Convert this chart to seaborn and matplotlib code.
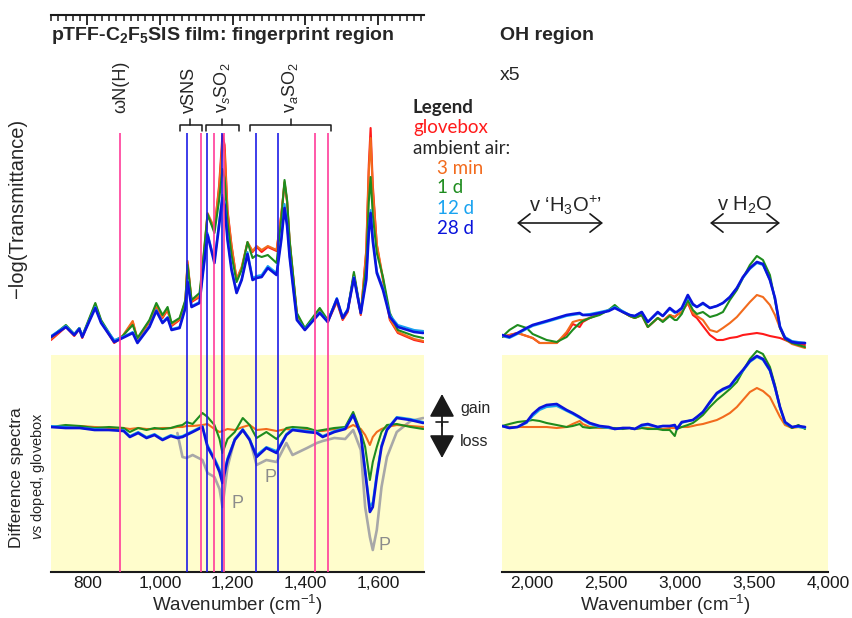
import numpy as np
import matplotlib
matplotlib.use("Agg")
import matplotlib.pyplot as plt
import seaborn as sns
from matplotlib.lines import Line2D
from matplotlib.ticker import FuncFormatter, MultipleLocator

# ---------------- data ----------------
# fingerprint region, absorbance-like units (upper block)
wn_fp = [700, 741, 764, 778, 786, 822, 838, 874, 897, 925,
         938, 971, 990, 1007, 1021, 1032, 1054, 1070, 1076, 1087,
         1109, 1117, 1131, 1150, 1163, 1172, 1178, 1186, 1197, 1211,
         1225, 1241, 1255, 1266, 1280, 1297, 1321, 1334, 1343, 1350,
         1357, 1377, 1399, 1440, 1462, 1487, 1503, 1517, 1534, 1553,
         1568, 1575, 1580, 1586, 1597, 1614, 1633, 1655, 1700, 1725]
fp_glovebox = [0.00, 0.13, 0.04, 0.11, 0.02, 0.35, 0.18, -0.03, 0.03, 0.18,
               0.00, 0.18, 0.34, 0.22, 0.30, 0.14, 0.20, 0.38, 0.77, 0.38,
               0.43, 0.68, 1.25, 1.10, 1.55, 2.05, 1.95, 1.30, 0.95, 0.60,
               0.72, 0.97, 0.88, 0.93, 0.88, 0.93, 0.89, 1.25, 1.57, 1.38,
               0.98, 0.25, 0.10, 0.30, 0.18, 0.38, 0.20, 0.28, 0.65, 0.25,
               0.90, 1.75, 2.12, 1.55, 0.95, 0.60, 0.20, 0.07, 0.00, -0.02]
fp_3min = [0.01, 0.14, 0.05, 0.12, 0.03, 0.36, 0.19, -0.02, 0.04, 0.19,
           0.01, 0.19, 0.35, 0.23, 0.31, 0.15, 0.21, 0.39, 0.79, 0.39,
           0.44, 0.70, 1.27, 1.12, 1.52, 1.97, 1.88, 1.28, 0.94, 0.61,
           0.73, 0.98, 0.89, 0.94, 0.90, 0.94, 0.90, 1.25, 1.58, 1.39,
           0.99, 0.26, 0.11, 0.31, 0.19, 0.39, 0.21, 0.29, 0.66, 0.26,
           0.88, 1.68, 2.02, 1.50, 0.96, 0.62, 0.21, 0.08, 0.01, -0.01]
fp_1d = [0.03, 0.15, 0.06, 0.12, 0.04, 0.37, 0.20, -0.01, 0.04, 0.15,
         0.02, 0.20, 0.37, 0.25, 0.33, 0.17, 0.22, 0.40, 0.75, 0.40,
         0.47, 0.73, 1.26, 1.07, 1.40, 1.71, 1.62, 1.18, 0.85, 0.58,
         0.70, 0.98, 0.82, 0.85, 0.83, 0.85, 0.77, 1.20, 1.60, 1.40,
         1.00, 0.27, 0.12, 0.32, 0.20, 0.40, 0.22, 0.30, 0.68, 0.27,
         0.75, 1.38, 1.63, 1.25, 0.87, 0.63, 0.27, 0.10, 0.04, 0.02]
fp_12d = [0.04, 0.14, 0.06, 0.12, 0.04, 0.33, 0.18, 0.00, 0.03, 0.08,
          -0.02, 0.14, 0.30, 0.18, 0.23, 0.11, 0.13, 0.33, 0.60, 0.34,
          0.38, 0.64, 1.07, 0.79, 1.18, 1.45, 1.38, 1.02, 0.72, 0.48,
          0.61, 0.88, 0.62, 0.64, 0.65, 0.74, 0.67, 1.02, 1.36, 1.17,
          0.85, 0.21, 0.11, 0.28, 0.19, 0.42, 0.23, 0.31, 0.63, 0.28,
          0.62, 1.10, 1.30, 1.02, 0.69, 0.52, 0.25, 0.15, 0.10, 0.09]
fp_28d = [0.03, 0.13, 0.05, 0.11, 0.03, 0.32, 0.17, -0.02, 0.02, 0.07,
          -0.03, 0.13, 0.29, 0.17, 0.22, 0.10, 0.12, 0.32, 0.58, 0.33,
          0.37, 0.63, 1.05, 0.77, 1.15, 1.42, 1.35, 1.00, 0.70, 0.47,
          0.60, 0.86, 0.60, 0.62, 0.63, 0.72, 0.65, 1.00, 1.32, 1.14,
          0.83, 0.20, 0.10, 0.27, 0.18, 0.41, 0.22, 0.30, 0.62, 0.27,
          0.60, 1.07, 1.27, 0.99, 0.67, 0.50, 0.23, 0.13, 0.08, 0.07]

# fingerprint difference spectra (vs doped, glovebox)
wn_fp_diff = [700, 740, 780, 820, 860, 900, 917, 940, 963, 985,
              1007, 1030, 1048, 1062, 1073, 1090, 1117, 1131, 1150, 1164,
              1172, 1186, 1206, 1228, 1247, 1266, 1293, 1321, 1348, 1365,
              1405, 1432, 1448, 1480, 1510, 1532, 1553, 1565, 1578, 1586,
              1597, 1610, 1625, 1652, 1690, 1725]
diff_3min = [0.00, 0.00, 0.01, 0.00, -0.01, -0.01, -0.02, -0.01, -0.02, -0.02,
             -0.01, -0.01, 0.00, 0.00, 0.01, 0.01, 0.02, 0.03, -0.02, -0.05,
             -0.04, -0.02, -0.03, 0.00, 0.02, -0.03, -0.02, -0.04, -0.02, -0.03,
             -0.02, -0.04, -0.04, -0.02, -0.02, 0.02, -0.02, -0.08, -0.18, -0.10,
             -0.05, -0.02, 0.00, 0.02, 0.01, 0.00]
diff_1d = [0.00, 0.02, 0.01, -0.01, 0.00, -0.01, -0.05, -0.01, -0.03, -0.01,
           -0.02, -0.01, 0.01, 0.02, 0.05, 0.03, 0.14, 0.10, 0.02, -0.12,
           -0.26, -0.12, -0.05, 0.09, 0.02, -0.11, -0.05, -0.12, -0.01, 0.00,
           -0.01, -0.04, -0.03, -0.01, 0.00, 0.15, -0.05, -0.20, -0.53, -0.35,
           -0.20, -0.05, 0.02, 0.03, 0.00, -0.02]
diff_12d = [0.01, 0.00, -0.01, -0.02, -0.03, -0.03, -0.09, -0.05, -0.10, -0.07,
            -0.12, -0.08, -0.10, -0.09, -0.07, -0.04, 0.01, -0.18, -0.31, -0.42,
            -0.52, -0.31, -0.12, -0.02, -0.12, -0.28, -0.20, -0.24, -0.07, -0.02,
            -0.04, -0.05, -0.09, -0.04, -0.01, 0.12, -0.07, -0.42, -0.80, -0.75,
            -0.46, -0.18, -0.02, 0.10, 0.08, 0.05]
diff_28d = [0.00, -0.01, -0.01, -0.03, -0.03, -0.04, -0.10, -0.06, -0.11, -0.08,
            -0.13, -0.09, -0.11, -0.10, -0.08, -0.05, 0.00, -0.20, -0.33, -0.45,
            -0.56, -0.33, -0.13, -0.03, -0.13, -0.30, -0.21, -0.26, -0.08, -0.03,
            -0.05, -0.06, -0.10, -0.05, -0.02, 0.12, -0.08, -0.45, -0.85, -0.80,
            -0.50, -0.20, -0.03, 0.09, 0.07, 0.04]
nan = np.nan
diff_P = [nan, nan, nan, nan, nan, nan, nan, nan, nan, nan,
          nan, nan, -0.06, -0.30, -0.31, -0.28, -0.33, -0.46, -0.50, -0.62,
          -0.80, -0.40, -0.12, -0.03, -0.12, -0.38, -0.33, -0.35, -0.16, -0.28,
          -0.21, -0.16, -0.14, -0.11, -0.12, -0.03, -0.23, -0.80, -1.10, -1.23,
          -1.03, -0.60, -0.30, -0.05, 0.06, 0.09]

# OH region (upper block is x5)
wn_oh = [1800, 1850, 1905, 1966, 2007, 2054, 2101, 2169, 2236, 2277,
         2324, 2345, 2392, 2459, 2520, 2561, 2615, 2662, 2696, 2743,
         2784, 2851, 2885, 2932, 2966, 2980, 3013, 3054, 3088, 3115,
         3156, 3203, 3250, 3291, 3338, 3385, 3426, 3473, 3520, 3561,
         3608, 3642, 3676, 3710, 3757, 3800, 3845]
oh_glovebox = [0.03, 0.05, 0.07, 0.04, 0.02, -0.03, -0.03, -0.03, 0.06, 0.16,
               0.13, 0.18, 0.22, 0.26, 0.30, 0.33, 0.28, 0.24, 0.22, 0.25,
               0.13, 0.22, 0.19, 0.25, 0.23, 0.25, 0.28, 0.37, 0.25, 0.22,
               0.14, 0.05, 0.00, 0.00, 0.02, 0.03, 0.05, 0.06, 0.07, 0.06,
               0.04, 0.03, 0.02, 0.00, -0.03, -0.04, -0.05]
oh_3min = [0.03, 0.05, 0.07, 0.04, 0.02, -0.03, -0.03, -0.03, 0.08, 0.18,
           0.20, 0.20, 0.22, 0.26, 0.30, 0.33, 0.28, 0.24, 0.22, 0.25,
           0.13, 0.22, 0.19, 0.25, 0.23, 0.25, 0.28, 0.38, 0.27, 0.24,
           0.20, 0.10, 0.08, 0.12, 0.17, 0.23, 0.30, 0.38, 0.45, 0.43,
           0.35, 0.25, 0.12, 0.01, -0.04, -0.06, -0.08]
oh_1d = [0.03, 0.10, 0.15, 0.12, 0.06, 0.03, 0.00, -0.02, 0.03, 0.10,
         0.17, 0.19, 0.22, 0.25, 0.30, 0.35, 0.28, 0.24, 0.22, 0.25,
         0.13, 0.22, 0.18, 0.24, 0.20, 0.20, 0.26, 0.40, 0.30, 0.26,
         0.28, 0.23, 0.25, 0.28, 0.40, 0.50, 0.62, 0.75, 0.84, 0.80,
         0.65, 0.40, 0.12, 0.01, -0.03, -0.05, -0.07]
oh_12d = [0.04, 0.02, 0.06, 0.11, 0.14, 0.16, 0.18, 0.21, 0.24, 0.25,
          0.26, 0.25, 0.26, 0.28, 0.30, 0.33, 0.29, 0.25, 0.24, 0.28,
          0.18, 0.27, 0.24, 0.31, 0.27, 0.28, 0.31, 0.43, 0.35, 0.33,
          0.36, 0.32, 0.34, 0.37, 0.43, 0.52, 0.62, 0.71, 0.77, 0.75,
          0.60, 0.42, 0.14, 0.03, -0.01, -0.02, -0.03]
oh_28d = [0.05, 0.03, 0.07, 0.12, 0.15, 0.17, 0.19, 0.22, 0.25, 0.26,
          0.27, 0.25, 0.25, 0.27, 0.29, 0.32, 0.28, 0.25, 0.24, 0.28,
          0.18, 0.28, 0.24, 0.32, 0.28, 0.28, 0.32, 0.45, 0.36, 0.33,
          0.37, 0.32, 0.34, 0.37, 0.43, 0.52, 0.63, 0.72, 0.78, 0.76,
          0.60, 0.42, 0.13, 0.02, -0.02, -0.03, -0.03]
oh_diff_3min = [0.01, 0.00, 0.00, 0.00, 0.00, 0.00, 0.00, -0.01, 0.00, 0.03,
                0.06, 0.03, 0.00, -0.01, -0.01, -0.02, -0.01, -0.01, -0.02, -0.01,
                -0.01, -0.02, -0.02, -0.01, -0.01, -0.01, 0.00, 0.00, 0.01, 0.02,
                0.03, 0.05, 0.07, 0.10, 0.14, 0.20, 0.27, 0.35, 0.39, 0.36,
                0.30, 0.20, 0.10, 0.02, -0.01, 0.00, -0.01]
oh_diff_1d = [0.01, 0.03, 0.05, 0.06, 0.07, 0.06, 0.04, 0.02, 0.00, 0.01,
              0.03, 0.00, -0.01, 0.00, -0.01, -0.01, -0.02, -0.01, -0.02, -0.01,
              -0.02, -0.02, -0.03, -0.03, -0.09, -0.02, 0.00, 0.02, 0.04, 0.07,
              0.12, 0.20, 0.27, 0.32, 0.38, 0.45, 0.56, 0.68, 0.76, 0.73,
              0.60, 0.42, 0.20, 0.04, -0.01, 0.02, -0.02]
oh_diff_12d = [0.01, -0.01, 0.00, 0.04, 0.11, 0.17, 0.20, 0.21, 0.16, 0.13,
               0.09, 0.07, 0.03, 0.00, -0.01, -0.02, -0.01, -0.01, -0.02, 0.01,
               0.02, 0.00, 0.01, 0.01, 0.01, -0.01, 0.04, 0.06, 0.07, 0.10,
               0.15, 0.24, 0.33, 0.37, 0.40, 0.49, 0.56, 0.65, 0.70, 0.67,
               0.56, 0.39, 0.19, 0.04, 0.00, 0.00, -0.01]
oh_diff_28d = [0.01, -0.01, 0.00, 0.05, 0.13, 0.19, 0.22, 0.23, 0.17, 0.14,
               0.10, 0.08, 0.04, 0.01, 0.00, -0.02, -0.01, -0.01, -0.02, 0.02,
               0.03, 0.00, 0.01, 0.01, 0.02, -0.02, 0.05, 0.06, 0.07, 0.10,
               0.15, 0.25, 0.34, 0.38, 0.41, 0.50, 0.57, 0.66, 0.71, 0.68,
               0.57, 0.40, 0.20, 0.05, 0.00, 0.01, 0.00]

# band markers (cm-1)
pink_bands = [891, 1113, 1149, 1177, 1426, 1462]
blue_bands = [1074, 1130, 1171, 1265, 1324]
band_labels = ["\u03c9N(H)", "vSNS", "v$_s$SO$_2$", "v$_a$SO$_2$"]
band_label_pos = [891, 1081, 1172, 1357]
brackets = [(1054, 1117, 1084), (1126, 1219, 1172), (1247, 1470, 1360)]

legend_names = ["glovebox", "3 min", "1 d", "12 d", "28 d"]

# ---------------- style ----------------
sns.set_theme(style="white")
plt.rcParams["font.family"] = ["Liberation Sans", "DejaVu Sans"]
plt.rcParams["mathtext.fontset"] = "custom"
plt.rcParams["mathtext.rm"] = "Liberation Sans"
plt.rcParams["mathtext.it"] = "Liberation Sans:italic"
plt.rcParams["mathtext.bf"] = "Liberation Sans:bold"

colors = {"glovebox": "#FF1A1A", "3 min": "#F26B1D", "1 d": "#1E8C1E",
          "12 d": "#19A3F0", "28 d": "#0A14DC"}
GRAY = "#A8A8A8"
PINK = "#FF3C9A"
BAND_BLUE = "#1C1CE6"
YELLOW = "#FFFDCC"
UPPER_OFFSET = 0.87
YMIN, YMAX = -1.45, 4.12

W, H = 852, 618
fig = plt.figure(figsize=(W / 100, H / 100), dpi=100)


def fpx(x, y):
    return x / W, 1 - y / H


ax_fp = fig.add_axes([51 / W, 1 - 572 / H, (424 - 51) / W, (572 - 15) / H])
ax_oh = fig.add_axes([502 / W, 1 - 572 / H, (828 - 502) / W, (572 - 15) / H])


def draw(ax, x, y, color, lw=1.5, z=3):
    sns.lineplot(x=x, y=y, ax=ax, color=color, linewidth=lw,
                 estimator=None, sort=False, zorder=z, legend=False)


for ax in (ax_fp, ax_oh):
    ax.axhspan(YMIN, 0.72, color=YELLOW, zorder=0, lw=0)

# fingerprint panel
upper_fp = [fp_glovebox, fp_3min, fp_1d, fp_12d, fp_28d]
for i, (name, vals) in enumerate(zip(legend_names, upper_fp)):
    draw(ax_fp, wn_fp, np.array(vals) + UPPER_OFFSET, colors[name],
         lw=1.9 if name == "28 d" else 1.5, z=3 + i)

draw(ax_fp, wn_fp_diff, diff_P, GRAY, lw=1.9, z=3)
for i, (name, vals) in enumerate(zip(legend_names[1:], [diff_3min, diff_1d, diff_12d, diff_28d])):
    draw(ax_fp, wn_fp_diff, vals, colors[name], lw=1.9 if name == "28 d" else 1.5, z=4 + i)

ax_fp.vlines(pink_bands, YMIN, 2.94, color=PINK, lw=1.2, zorder=9)
ax_fp.vlines(blue_bands, YMIN, 2.94, color=BAND_BLUE, lw=1.2, zorder=9)

for lab, pos in zip(band_labels, band_label_pos):
    ax_fp.text(pos, 3.14, lab, rotation=90, rotation_mode="anchor",
               ha="left", va="center", fontsize=13)
for x0, x1, xm in brackets:
    ax_fp.plot([x0, x0, x1, x1], [2.96, 3.02, 3.02, 2.96], color="k", lw=1.1)
    ax_fp.plot([xm, xm], [3.02, 3.08], color="k", lw=1.1)

for (px_x, px_y) in [(1214, -0.76), (1305, -0.51), (1617, -1.18)]:
    ax_fp.text(px_x, px_y, "P", color="#8C8C8C", fontsize=13, ha="center", va="center")

# OH panel
upper_oh = [oh_glovebox, oh_3min, oh_1d, oh_12d, oh_28d]
for i, (name, vals) in enumerate(zip(legend_names, upper_oh)):
    draw(ax_oh, wn_oh, np.array(vals) + UPPER_OFFSET, colors[name],
         lw=1.9 if name == "28 d" else 1.5, z=3 + i)
for i, (name, vals) in enumerate(zip(legend_names[1:], [oh_diff_3min, oh_diff_1d, oh_diff_12d, oh_diff_28d])):
    draw(ax_oh, wn_oh, vals, colors[name], lw=1.9 if name == "28 d" else 1.5, z=4 + i)

# axes formatting
comma = FuncFormatter(lambda v, p: f"{v:,.0f}")
ax_fp.set_xlim(700, 1727)
ax_fp.xaxis.set_major_locator(MultipleLocator(200))
ax_fp.xaxis.set_minor_locator(MultipleLocator(20))
ax_oh.set_xlim(1800, 4000)
ax_oh.xaxis.set_major_locator(MultipleLocator(500))
ax_oh.xaxis.set_minor_locator(MultipleLocator(100))
for ax in (ax_fp, ax_oh):
    ax.set_ylim(YMIN, YMAX)
    ax.xaxis.set_major_formatter(comma)
    ax.set_yticks([])
    ax.set_ylabel("")
    for s in ("left", "right", "top"):
        ax.spines[s].set_visible(False)
    ax.spines["bottom"].set_linewidth(1.5)
    ax.spines["bottom"].set_color("k")
    ax.tick_params(axis="x", which="major", direction="in", length=7, width=1.3,
                   labelsize=12.5, pad=3, colors="k")
    ax.tick_params(axis="x", which="minor", direction="in", length=4, width=1.1, colors="k")
    ax.set_xlabel("Wavenumber (cm$^{-1}$)", fontsize=13.5, labelpad=1)
    ax.set_facecolor("none")

ax_fp.spines["top"].set_visible(True)
ax_fp.spines["top"].set_linewidth(1.5)
ax_fp.spines["top"].set_color("k")
ax_fp.tick_params(axis="x", which="both", top=True)

# titles / labels
fig.text(*fpx(51, 36), "pTFF-C$_\\mathbf{2}$F$_\\mathbf{5}$SIS film: fingerprint region",
         fontsize=14, fontweight="bold", ha="left", va="center")
fig.text(*fpx(500, 36), "OH region", fontsize=14, fontweight="bold", ha="left", va="center")
fig.text(*fpx(500, 75), "x5", fontsize=14, ha="left", va="center")
fig.text(*fpx(18, 208), "\u2212log(Transmittance)", rotation=90, fontsize=14.5, ha="center", va="center")
fig.text(*fpx(17, 478), "Difference spectra", rotation=90, fontsize=12.5, ha="center", va="center")
fig.text(*fpx(38, 476), "$\\mathit{vs}$ doped, glovebox", rotation=90, fontsize=10.5, ha="center", va="center")

# legend block
leg_font = ["Lato", "DejaVu Sans"]
fig.text(*fpx(413, 108), "Legend", fontsize=13.5, fontweight="bold", family=leg_font, va="center")
fig.text(*fpx(413, 128), "glovebox", fontsize=13.5, color=colors["glovebox"], family=leg_font, va="center")
fig.text(*fpx(413, 148), "ambient air:", fontsize=13.5, family=leg_font, va="center")
for i, name in enumerate(legend_names[1:]):
    fig.text(*fpx(437, 168 + 20 * i), name, fontsize=13.5, color=colors[name],
             family=leg_font, va="center")

# gain / loss marker
arrow_kw = dict(arrowstyle="-|>,head_width=0.65,head_length=1.2", color="k", lw=1.3,
                shrinkA=0, shrinkB=0)
ax_fp.annotate("", xy=fpx(442, 394), xytext=fpx(442, 426), xycoords="figure fraction",
               textcoords="figure fraction", arrowprops=arrow_kw, annotation_clip=False)
ax_fp.annotate("", xy=fpx(442, 458), xytext=fpx(442, 424), xycoords="figure fraction",
               textcoords="figure fraction", arrowprops=arrow_kw, annotation_clip=False)
fig.add_artist(Line2D([436 / W, 448 / W], [1 - 422 / H] * 2, color="k", lw=1.2,
                      transform=fig.transFigure))
fig.text(*fpx(460, 408), "gain", fontsize=11.5, va="center")
fig.text(*fpx(460, 442), "loss", fontsize=11.5, va="center")

# OH band ranges
dbl_kw = dict(arrowstyle="<->,head_length=0.7,head_width=0.55", color="k", lw=1.2,
              shrinkA=0, shrinkB=0)
ax_oh.annotate("", xy=fpx(517, 223), xytext=fpx(603, 223), xycoords="figure fraction",
               textcoords="figure fraction", arrowprops=dbl_kw, annotation_clip=False)
ax_oh.annotate("", xy=fpx(710, 223), xytext=fpx(780, 223), xycoords="figure fraction",
               textcoords="figure fraction", arrowprops=dbl_kw, annotation_clip=False)
fig.text(*fpx(565, 205), "v \u2018H$_3$O$^{+}$\u2019", fontsize=14.5, ha="center", va="center")
fig.text(*fpx(745, 205), "v H$_2$O", fontsize=14.5, ha="center", va="center")

fig.savefig("out.png", dpi=100, facecolor="white")
